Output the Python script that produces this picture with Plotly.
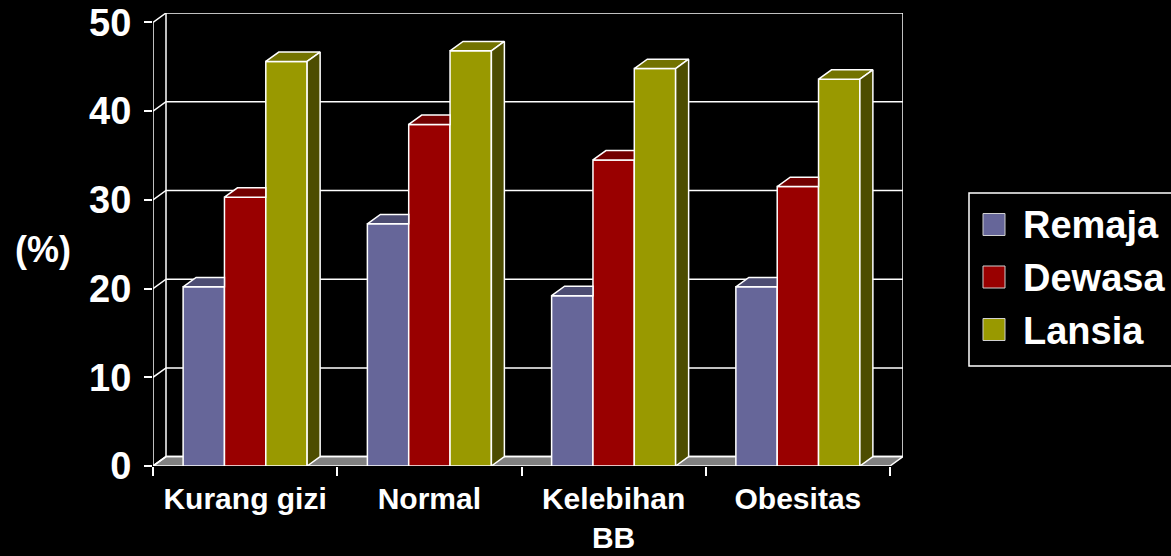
import plotly.graph_objects as go

# ---------------- data ----------------
categories = ["Kurang gizi", "Normal", "Kelebihan BB", "Obesitas"]
tick_labels = ["Kurang gizi", "Normal", "Kelebihan<br>BB", "Obesitas"]
series_names = ["Remaja", "Dewasa", "Lansia"]
remaja = [20.2, 27.3, 19.2, 20.2]
dewasa = [30.3, 38.5, 34.5, 31.5]
lansia = [45.6, 46.8, 44.8, 43.6]
y_ticks = [0, 10, 20, 30, 40, 50]
y_title = "(%)"

# ---------------- style ----------------
front_colors = ["#666699", "#990000", "#999900"]
top_colors = ["#4d4d73", "#730000", "#737300"]
side_colors = ["#3d3d5c", "#4d0000", "#4d4d00"]
FONT = "Liberation Sans, Arial, sans-serif"

W, H = 1171, 556
ML, MR, MT, MB = 153, 268, 13, 90
pw = W - ML - MR
ph = H - MT - MB
DXPX, DYPX = 13, 9.4          # depth of the 3D effect in pixels
ncat = len(categories)
ymax = y_ticks[-1]
dx = DXPX * ncat / (pw - DXPX)   # depth in x data units
dy = DYPX * ymax / (ph - DYPX)   # depth in y data units

group_w = 0.673
bar_w = group_w / len(series_names)
xs = list(range(ncat))
series = [remaja, dewasa, lansia]

fig = go.Figure()

# front faces (real bars)
for k, (name, vals) in enumerate(zip(series_names, series)):
    fig.add_trace(go.Bar(
        x=xs, y=vals, name=name, width=bar_w,
        offset=-group_w / 2 + k * bar_w,
        marker=dict(color=front_colors[k], line=dict(color="white", width=1.5)),
        showlegend=False, hoverinfo="name+y",
    ))

# top and side faces
last = len(series_names) - 1
for k, vals in enumerate(series):
    px, py = [], []
    sx, sy = [], []
    for i, v in enumerate(vals):
        x0 = xs[i] - group_w / 2 + k * bar_w
        x1 = x0 + bar_w
        if k == last:
            px += [x0, x1, x1 + dx, x0 + dx, x0, None]
            py += [v, v, v + dy, v + dy, v, None]
            sx += [x1, x1 + dx, x1 + dx, x1, x1, None]
            sy += [0, dy, v + dy, v, 0, None]
        else:
            px += [x0, x1, x1, x0 + dx, x0, None]
            py += [v, v, v + dy, v + dy, v, None]
    fig.add_trace(go.Scatter(x=px, y=py, mode="lines", fill="toself",
                             fillcolor=top_colors[k],
                             line=dict(color="white", width=1.5),
                             showlegend=False, hoverinfo="skip"))
    if sx:
        fig.add_trace(go.Scatter(x=sx, y=sy, mode="lines", fill="toself",
                                 fillcolor=side_colors[k],
                                 line=dict(color="white", width=1.5),
                                 showlegend=False, hoverinfo="skip"))

xl, xr = -0.5, ncat - 0.5
shapes = []
# floor
shapes.append(dict(type="path", layer="below", xref="x", yref="y",
                   path=f"M{xl},0 L{xr},0 L{xr+dx},{dy} L{xl+dx},{dy} Z",
                   fillcolor="#808080", line=dict(color="white", width=1.5)))
# back wall gridlines with left-wall diagonals
for t in y_ticks:
    shapes.append(dict(type="path", layer="below", xref="x", yref="y",
                       path=f"M{xl},{t} L{xl+dx},{t+dy} L{xr+dx},{t+dy}",
                       line=dict(color="white", width=1.5)))
# wall verticals and front axis line
for (xa, ya, xb, yb) in [(xl + dx, dy, xl + dx, ymax + dy),
                         (xr + dx, dy, xr + dx, ymax + dy),
                         (xl, 0, xl, ymax)]:
    shapes.append(dict(type="line", layer="below", xref="x", yref="y",
                       x0=xa, y0=ya, x1=xb, y1=yb,
                       line=dict(color="white", width=1.5)))

# legend box + swatches (manual, large swatches like the original)
def px2x(p):
    return (p - ML) / pw

def px2y(p):
    return (H - MB - p) / ph

shapes.append(dict(type="rect", xref="paper", yref="paper",
                   x0=px2x(969), x1=px2x(1180), y0=px2y(366), y1=px2y(193),
                   line=dict(color="white", width=1.5), fillcolor="black"))
annotations = []
leg_y = [224.5, 277, 329.5]
for k, name in enumerate(series_names):
    cy = leg_y[k]
    shapes.append(dict(type="rect", xref="paper", yref="paper",
                       x0=px2x(983), x1=px2x(1005), y0=px2y(cy + 11), y1=px2y(cy - 11),
                       fillcolor=front_colors[k], line=dict(color="#d0d0d0", width=1)))
    annotations.append(dict(xref="paper", yref="paper", x=px2x(1021), y=px2y(cy + 1),
                            xanchor="left", yanchor="middle", text=name, showarrow=False,
                            font=dict(family=FONT, size=38, color="white", weight="bold")))

annotations.append(dict(xref="paper", yref="paper", x=px2x(43), y=px2y(249),
                        xanchor="center", yanchor="middle", text=y_title, showarrow=False,
                        font=dict(family=FONT, size=36, color="white", weight="bold")))

fig.update_layout(
    width=W, height=H, autosize=False,
    margin=dict(l=ML, r=MR, t=MT, b=MB, pad=0, autoexpand=False),
    paper_bgcolor="black", plot_bgcolor="black",
    barmode="overlay",
    showlegend=False,
    shapes=shapes, annotations=annotations,
    font=dict(family=FONT, color="white"),
    xaxis=dict(range=[xl, xr + dx], tickvals=xs, ticktext=tick_labels,
               ticks="", showgrid=False, zeroline=False, showline=False,
               automargin=False,
               tickfont=dict(family=FONT, size=30, color="white", weight="bold"),
               ticklabelstandoff=12,
               minor=dict(tickvals=[xl + j for j in range(ncat + 1)], ticks="outside",
                          ticklen=9, tickwidth=1.5, tickcolor="white", showgrid=False)),
    yaxis=dict(range=[0, ymax + dy], tickvals=y_ticks, ticks="outside", ticklen=8,
               tickwidth=1.5, tickcolor="white", showgrid=False, zeroline=False,
               showline=False, ticklabelstandoff=5, automargin=False,
               tickfont=dict(family=FONT, size=38, color="white", weight="bold")),
)

fig.write_html("out.html", config={"displayModeBar": False},
               post_script="document.body.style.margin='0';document.body.style.background='black';")
